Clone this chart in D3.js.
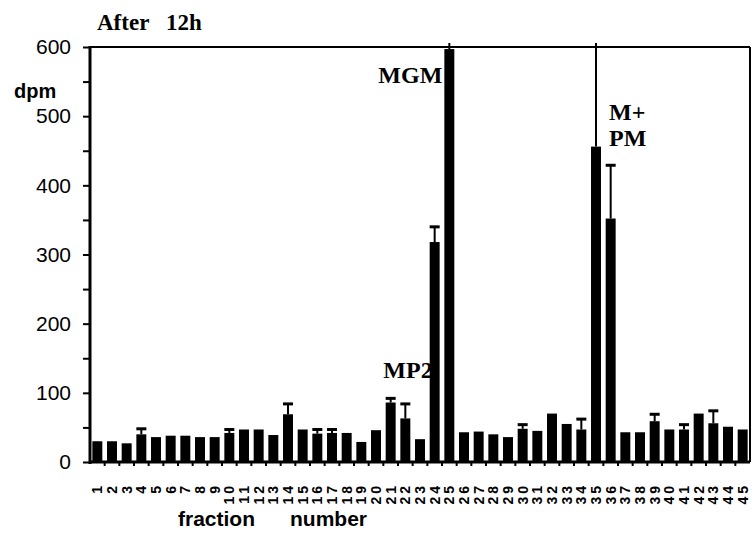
<!DOCTYPE html>
<html><head><meta charset="utf-8">
<script src="https://cdn.jsdelivr.net/npm/d3@7"></script>
<style>
body{margin:0;background:#fff;}
svg{display:block;}
</style></head>
<body>
<svg id="chart" width="755" height="537"></svg>
<script>
const fractions = ["1","2","3","4","5","6","7","8","9","10","11","12","13","14","15","16","17","18","19","20","21","22","23","24","25","26","27","28","29","30","31","32","33","34","35","36","37","38","39","40","41","42","43","44","45"];
const dpm = [30,30,27,40,36,38,38,36,36,42,47,47,39,69,47,41,42,42,29,46,86,63,33,318,597,43,44,40,36,48,45,70,55,47,456,352,43,43,59,47,47,70,56,51,47];
const errPlus = [0,0,0,8,0,0,0,0,0,5,0,0,0,15,0,6,5,0,0,0,6,21,0,22,9,0,0,0,0,6,0,0,0,15,150,77,0,0,10,0,7,0,18,0,0];
const yTicks = [0,100,200,300,400,500,600];
const yMinorTicks = [0,50,100,150,200,250,300,350,400,450,500,550,600];
const peakLabels = [
  {lines:["MGM"], fraction:"25", value:548, side:"left"},
  {lines:["MP2"], fraction:"24", value:121, side:"leftEnd"},
  {lines:["M+","PM"], fraction:"35", value:494, side:"right"}
];
const title = ["After","12h"];
const yLabel = "dpm";
const xLabel = ["fraction","number"];

(function(){
const svg = d3.select("#chart");
const pLeft = 90, pRight = 750, pTop = 47, pBottom = 462;

const x = d3.scaleBand().domain(fractions).range([pLeft, pRight]).paddingInner(0.32).paddingOuter(0.16);
const y = d3.scaleLinear().domain([0, 600]).range([pBottom, pTop]);

// frame top and right
svg.append("line").attr("x1", pLeft).attr("x2", pRight).attr("y1", pTop).attr("y2", pTop)
  .attr("stroke", "#000").attr("stroke-width", 2);
svg.append("line").attr("x1", pRight).attr("x2", pRight).attr("y1", pTop).attr("y2", pBottom)
  .attr("stroke", "#000").attr("stroke-width", 2);

// bars
svg.append("g").selectAll("rect").data(fractions).join("rect")
  .attr("x", d => x(d))
  .attr("width", x.bandwidth())
  .attr("y", (d, i) => y(dpm[i]))
  .attr("height", (d, i) => y(0) - y(dpm[i]))
  .attr("fill", "#000");

// error bars (upper only)
const eg = svg.append("g");
fractions.forEach((d, i) => {
  if (!errPlus[i]) return;
  const cx = x(d) + x.bandwidth() / 2;
  const top2 = Math.max(y(dpm[i] + errPlus[i]), pTop - 4);
  eg.append("line").attr("x1", cx).attr("x2", cx).attr("y1", y(dpm[i])).attr("y2", top2)
    .attr("stroke", "#000").attr("stroke-width", 2);
  if (dpm[i] + errPlus[i] <= 600) {
    eg.append("line").attr("x1", cx - 5).attr("x2", cx + 5).attr("y1", top2).attr("y2", top2)
      .attr("stroke", "#000").attr("stroke-width", 3);
  }
});

// y axis
const yAxisMinor = d3.axisLeft(y).tickValues(yMinorTicks).tickSize(7).tickFormat("");
const gyMinor = svg.append("g").attr("transform", `translate(${pLeft},0)`).call(yAxisMinor);
gyMinor.select(".domain").remove();
gyMinor.selectAll("line").attr("stroke-width", 2);
const yAxis = d3.axisLeft(y).tickValues(yTicks).tickSize(0).tickPadding(19).tickFormat(d3.format("d"));
const gy = svg.append("g").attr("transform", `translate(${pLeft},0)`).call(yAxis);
gy.select(".domain").remove();
gy.selectAll("text").attr("font-family", "'Liberation Sans', Arial, sans-serif")
  .attr("font-size", 21).attr("fill", "#000");
svg.append("line").attr("x1", pLeft).attr("x2", pLeft).attr("y1", pTop - 1).attr("y2", pBottom + 2)
  .attr("stroke", "#000").attr("stroke-width", 3);

// x axis
const step = x.step();
const gx = svg.append("g");
gx.append("line").attr("x1", pLeft - 1).attr("x2", pRight).attr("y1", pBottom).attr("y2", pBottom)
  .attr("stroke", "#000").attr("stroke-width", 3);
gx.selectAll("line.tk").data(fractions.slice(0, -1)).join("line").attr("class", "tk")
  .attr("x1", d => x(d) + x.bandwidth() + (step - x.bandwidth()) / 2)
  .attr("x2", d => x(d) + x.bandwidth() + (step - x.bandwidth()) / 2)
  .attr("y1", pBottom).attr("y2", pBottom + 4)
  .attr("stroke", "#000").attr("stroke-width", 2);
gx.selectAll("text").data(fractions).join("text")
  .attr("transform", d => `translate(${x(d) + x.bandwidth() / 2 + 5},${pBottom + 21}) rotate(-90)`)
  .attr("text-anchor", "end")
  .attr("font-family", "'Liberation Sans', Arial, sans-serif")
  .attr("font-weight", "bold")
  .attr("font-size", 14)
  .attr("letter-spacing", 3)
  .text(d => d);

// title
const t = svg.append("text").attr("y", 30).attr("font-family", "'Liberation Serif', 'Times New Roman', serif")
  .attr("font-weight", "bold").attr("font-size", 23).attr("fill", "#000");
t.append("tspan").attr("x", 97).text(title[0]);
t.append("tspan").attr("x", 166).text(title[1]);

// y label
svg.append("text").attr("x", 14).attr("y", 98).attr("font-family", "'Liberation Sans', Arial, sans-serif")
  .attr("font-weight", "bold").attr("font-size", 20).text(yLabel);

// x label
const xl = svg.append("text").attr("y", 526).attr("font-family", "'Liberation Sans', Arial, sans-serif")
  .attr("font-weight", "bold").attr("font-size", 21);
xl.append("tspan").attr("x", 178).text(xLabel[0]);
xl.append("tspan").attr("x", 290).text(xLabel[1]);

// peak labels
peakLabels.forEach(p => {
  let tx, anchor;
  if (p.side === "left") { tx = x(p.fraction) - 2; anchor = "end"; }
  else if (p.side === "leftEnd") { tx = x(p.fraction) + 3; anchor = "end"; }
  else { tx = x(p.fraction) + x.bandwidth() + 8; anchor = "start"; }
  const el = svg.append("text").attr("text-anchor", anchor)
    .attr("font-family", "'Liberation Serif', 'Times New Roman', serif")
    .attr("font-weight", "bold").attr("font-size", 24).attr("fill", "#000");
  p.lines.forEach((ln, k) => {
    el.append("tspan").attr("x", tx).attr("y", y(p.value) + k * 26).text(ln);
  });
});
})();
</script>
</body></html>
